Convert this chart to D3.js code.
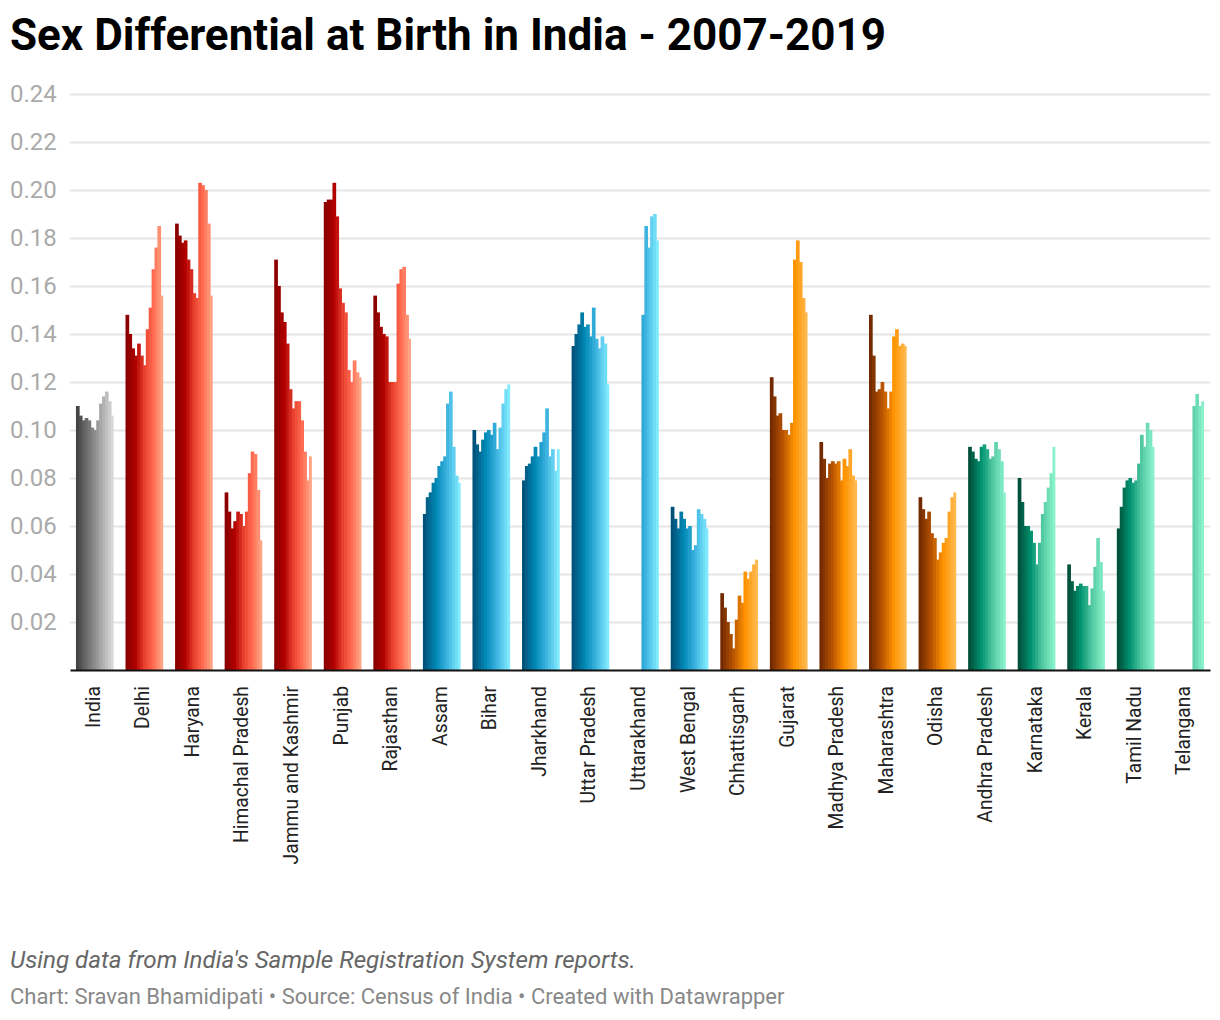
<!DOCTYPE html>
<html>
<head>
<meta charset="utf-8">
<script src="https://cdn.jsdelivr.net/npm/d3@7"></script>
<style>
  html, body { margin: 0; padding: 0; background: #fff; }
  svg { display: block; font-family: Roboto, sans-serif; }
</style>
</head>
<body>
<div id="chart"></div>
<script>
// sex differential at birth, one row per state, 2007 to 2019
const years = [2007,2008,2009,2010,2011,2012,2013,2014,2015,2016,2017,2018,2019];
const states = ["India","Delhi","Haryana","Himachal Pradesh","Jammu and Kashmir","Punjab","Rajasthan","Assam","Bihar","Jharkhand","Uttar Pradesh","Uttarakhand","West Bengal","Chhattisgarh","Gujarat","Madhya Pradesh","Maharashtra","Odisha","Andhra Pradesh","Karnataka","Kerala","Tamil Nadu","Telangana"];
const regions = ["grey","red","red","red","red","red","red","blue","blue","blue","blue","blue","blue","orange","orange","orange","orange","orange","green","green","green","green","green"];

const india = [.110,.106,.104,.105,.104,.101,.100,.104,.111,.114,.116,.112,.106];
const delhi = [.148,.140,.134,.131,.136,.131,.127,.142,.151,.167,.176,.185,.156];
const haryana = [.186,.181,.178,.179,.171,.167,.157,.155,.203,.202,.200,.186,.156];
const himachal = [.074,.066,.059,.062,.066,.065,.060,.066,.082,.091,.090,.075,.054];
const jammu = [.171,.160,.149,.145,.136,.117,.109,.112,.112,.104,.091,.079,.089];
const punjab = [.195,.196,.196,.203,.189,.159,.153,.149,.125,.120,.129,.124,.122];
const rajasthan = [.156,.149,.143,.140,.139,.120,.120,.120,.161,.167,.168,.148,.138];
const assam = [.065,.072,.074,.078,.080,.085,.087,.089,.111,.116,.093,.081,.078];
const bihar = [.100,.094,.091,.096,.099,.100,.098,.103,.092,.101,.111,.117,.119];
const jharkhand = [.079,.085,.086,.089,.093,.089,.095,.099,.109,.089,.092,.083,.092];
const uttarPradesh = [.135,.140,.144,.149,.143,.144,.139,.151,.138,.134,.139,.136,.119];
const uttarakhand = [null,null,null,null,null,null,null,.148,.185,.176,.189,.190,.179];
const westBengal = [.068,.063,.059,.066,.063,.059,.060,.050,.052,.067,.065,.063,.059];
const chhattisgarh = [.032,.026,.020,.015,.009,.021,.031,.028,.041,.038,.041,.044,.046];
const gujarat = [.122,.114,.106,.107,.100,.100,.098,.103,.171,.179,.170,.155,.149];
const madhyaPradesh = [.095,.088,.080,.086,.087,.086,.087,.079,.088,.085,.092,.081,.079];
const maharashtra = [.148,.131,.116,.117,.120,.116,.109,.116,.139,.142,.135,.136,.135];
const odisha = [.072,.067,.063,.066,.057,.055,.046,.049,.053,.055,.066,.072,.074];
const andhra = [.093,.091,.088,.087,.093,.094,.092,.088,.089,.095,.092,.087,.074];
const karnataka = [.080,.070,.060,.060,.058,.053,.044,.053,.065,.070,.076,.082,.093];
const kerala = [.044,.037,.033,.035,.036,.035,.035,.027,.034,.043,.055,.045,.033];
const tamilNadu = [.059,.068,.076,.079,.080,.078,.079,.086,.098,.093,.103,.100,.093];
const telangana = [null,null,null,null,null,null,null,null,null,.110,.115,.110,.112];
const values = [india,delhi,haryana,himachal,jammu,punjab,rajasthan,assam,bihar,jharkhand,uttarPradesh,uttarakhand,westBengal,chhattisgarh,gujarat,madhyaPradesh,maharashtra,odisha,andhra,karnataka,kerala,tamilNadu,telangana];

const yTicks = [.02,.04,.06,.08,.10,.12,.14,.16,.18,.20,.22,.24];

// colour ramps from first year to last
const grey = ["#444444","#d8d8d8"];
const red = ["#8b0000","#b00000","#e8402e","#ff6a50","#ffa585"];
const blue = ["#00527a","#0088b5","#3fb4e0","#80eaff"];
const orange = ["#732a00","#b85400","#ff9300","#ffb84d"];
const green = ["#00503a","#009270","#52c8a2","#8af2cb"];
const ramps = {grey: grey, red: red, blue: blue, orange: orange, green: green};

const width = 1220, height = 1020;
const margin = {top: 94, right: 10, bottom: 350, left: 70};

const svg = d3.select("#chart").append("svg")
    .attr("width", width)
    .attr("height", height);

const x0 = d3.scaleBand().domain(states).range([margin.left, width - margin.right]).paddingInner(0.24).paddingOuter(0.12);
const x1 = d3.scaleBand().domain(years).range([0, x0.bandwidth()]);
const y = d3.scaleLinear().domain([0, .24]).range([height - margin.bottom, margin.top]);

function rampColor(region, i) {
    const scale = d3.scaleLinear()
        .domain(d3.range(ramps[region].length).map(function(k) { return k / (ramps[region].length - 1); }))
        .range(ramps[region])
        .interpolate(d3.interpolateRgb);
    return scale(i / (years.length - 1));
}

svg.append("text")
    .attr("x", 10).attr("y", 50)
    .attr("font-size", 44).attr("font-weight", 700).attr("fill", "#000")
    .text("Sex Differential at Birth in India - 2007-2019");

// horizontal grid lines and tick labels
const yAxis = svg.append("g")
    .attr("transform", "translate(" + (width - margin.right) + ",0)")
    .call(d3.axisLeft(y).tickValues(yTicks).tickSize(width - margin.right - margin.left).tickFormat(d3.format(".2f")));
yAxis.select(".domain").remove();
yAxis.selectAll("line").attr("stroke", "#e5e5e5").attr("stroke-width", 2);
yAxis.selectAll("text")
    .attr("x", -(width - margin.right - 10)).attr("text-anchor", "start")
    .attr("font-family", "Roboto, sans-serif").attr("font-size", 24).attr("fill", "#aaaaaa");

const groups = svg.selectAll(".state")
    .data(states)
    .enter()
    .append("g")
    .attr("class", "state")
    .attr("transform", function(d) { return "translate(" + x0(d) + ",0)"; });

groups.each(function(state, s) {
    d3.select(this).selectAll("rect")
        .data(values[s].map(function(v, i) { return {year: years[i], value: v, i: i}; }).filter(function(d) { return d.value !== null; }))
        .enter()
        .append("rect")
        .attr("x", function(d) { return x1(d.year); })
        // overlap the next bar a little so no white seams show
        .attr("width", function(d) { return x1.bandwidth() + (d.i < years.length - 1 ? 0.8 : 0); })
        .attr("y", function(d) { return y(d.value); })
        .attr("height", function(d) { return y(0) - y(d.value); })
        .attr("fill", function(d) { return rampColor(regions[s], d.i); });
});

// baseline and rotated state names
const xAxis = svg.append("g")
    .attr("transform", "translate(0," + y(0) + ")")
    .call(d3.axisBottom(x0).tickSize(0).tickPadding(0));
xAxis.select(".domain").attr("stroke", "#111").attr("stroke-width", 2);
xAxis.selectAll("text")
    .attr("font-family", "Roboto, sans-serif").attr("font-size", 19.3).attr("fill", "#222")
    .attr("text-anchor", "end").attr("dy", null)
    .attr("dominant-baseline", "central")
    .attr("transform", "translate(-1.5,16) rotate(-90)")
    .attr("x", 0).attr("y", 0);

svg.append("text")
    .attr("x", 10).attr("y", 968)
    .attr("font-size", 24.2).attr("font-style", "italic").attr("fill", "#666")
    .text("Using data from India's Sample Registration System reports.");

svg.append("text")
    .attr("x", 10).attr("y", 1004)
    .attr("font-size", 22).attr("fill", "#888")
    .text("Chart: Sravan Bhamidipati \u2022 Source: Census of India \u2022 Created with Datawrapper");
</script>
</body>
</html>
